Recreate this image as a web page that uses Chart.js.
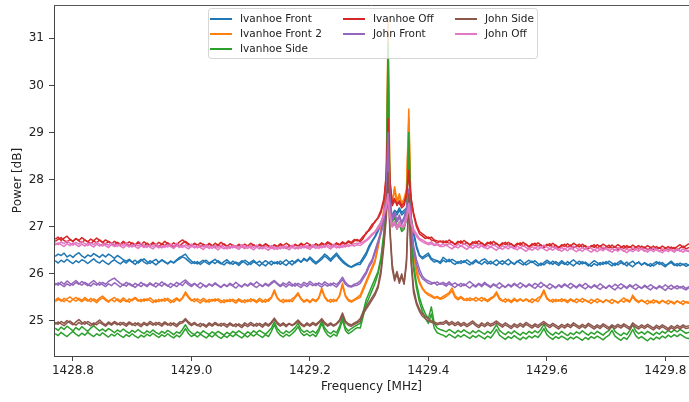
<!DOCTYPE html>
<html>
<head>
<meta charset="utf-8">
<script src="https://cdn.jsdelivr.net/npm/chart.js@4.4.0/dist/chart.umd.min.js"></script>
<style>
  html, body { margin: 0; padding: 0; background: #fff; overflow: hidden; }
  canvas { display: block; }
</style>
</head>
<body>
<canvas id="spectrum" width="689" height="402"></canvas>
<script>
// frequency bins [MHz] - 5 kHz steps on the wings, finer across the line
const freq = [
  1428.770, 1428.775, 1428.780, 1428.785, 1428.790, 1428.795, 1428.800, 1428.805, 1428.810, 1428.815,
  1428.820, 1428.825, 1428.830, 1428.835, 1428.840, 1428.845, 1428.850, 1428.855, 1428.860, 1428.865,
  1428.870, 1428.875, 1428.880, 1428.885, 1428.890, 1428.895, 1428.900, 1428.905, 1428.910, 1428.915,
  1428.920, 1428.925, 1428.930, 1428.935, 1428.940, 1428.945, 1428.950, 1428.955, 1428.960, 1428.965,
  1428.970, 1428.975, 1428.980, 1428.985, 1428.990, 1428.995, 1429.000, 1429.005, 1429.010, 1429.015,
  1429.020, 1429.025, 1429.030, 1429.035, 1429.040, 1429.045, 1429.050, 1429.055, 1429.060, 1429.065,
  1429.070, 1429.075, 1429.080, 1429.085, 1429.090, 1429.095, 1429.100, 1429.105, 1429.110, 1429.115,
  1429.120, 1429.125, 1429.130, 1429.135, 1429.140, 1429.145, 1429.150, 1429.155, 1429.160, 1429.165,
  1429.170, 1429.175, 1429.180, 1429.185, 1429.190, 1429.195, 1429.200, 1429.205, 1429.210, 1429.215,
  1429.220, 1429.225, 1429.230, 1429.235, 1429.240, 1429.245, 1429.250, 1429.255, 1429.260, 1429.265,
  1429.270, 1429.275, 1429.280,
  1429.285, 1429.290, 1429.295, 1429.300, 1429.305, 1429.310, 1429.315, 1429.320, 1429.325, 1429.329,
  1429.332, 1429.335, 1429.339, 1429.343, 1429.347, 1429.351, 1429.355, 1429.359, 1429.363, 1429.367,
  1429.371, 1429.375, 1429.380, 1429.385, 1429.390, 1429.395, 1429.400, 1429.405, 1429.410, 1429.415,
  1429.420,
  1429.425, 1429.430, 1429.435, 1429.440, 1429.445, 1429.450, 1429.455, 1429.460, 1429.465, 1429.470,
  1429.475, 1429.480, 1429.485, 1429.490, 1429.495, 1429.500, 1429.505, 1429.510, 1429.515, 1429.520,
  1429.525, 1429.530, 1429.535, 1429.540, 1429.545, 1429.550, 1429.555, 1429.560, 1429.565, 1429.570,
  1429.575, 1429.580, 1429.585, 1429.590, 1429.595, 1429.600, 1429.605, 1429.610, 1429.615, 1429.620,
  1429.625, 1429.630, 1429.635, 1429.640, 1429.645, 1429.650, 1429.655, 1429.660, 1429.665, 1429.670,
  1429.675, 1429.680, 1429.685, 1429.690, 1429.695, 1429.700, 1429.705, 1429.710, 1429.715, 1429.720,
  1429.725, 1429.730, 1429.735, 1429.740, 1429.745, 1429.750, 1429.755, 1429.760, 1429.765, 1429.770,
  1429.775, 1429.780, 1429.785, 1429.790, 1429.795, 1429.800, 1429.805, 1429.810, 1429.815, 1429.820,
  1429.825, 1429.830, 1429.835, 1429.840
];

// power [dB], two sweeps per pointing
const ivanhoeFrontA = [
  26.37, 26.42, 26.39, 26.44, 26.36, 26.40, 26.35, 26.41, 26.45, 26.38,
  26.34, 26.40, 26.37, 26.43, 26.39, 26.35, 26.41, 26.36, 26.42, 26.38,
  26.33, 26.39, 26.35, 26.30, 26.27, 26.31, 26.25, 26.29, 26.23, 26.28,
  26.32, 26.26, 26.22, 26.27, 26.31, 26.24, 26.29, 26.25, 26.21, 26.27,
  26.24, 26.30, 26.35, 26.38, 26.42, 26.33, 26.27, 26.22, 26.26, 26.20,
  26.25, 26.29, 26.23, 26.27, 26.31, 26.25, 26.21, 26.26, 26.30, 26.24,
  26.20, 26.25, 26.22, 26.28, 26.24, 26.19, 26.25, 26.29, 26.23, 26.27,
  26.21, 26.17, 26.23, 26.27, 26.22, 26.26, 26.20, 26.25, 26.30, 26.24,
  26.19, 26.26, 26.31, 26.25, 26.33, 26.28, 26.36, 26.30, 26.24, 26.29,
  26.35, 26.42, 26.37, 26.31, 26.38, 26.44, 26.36, 26.29, 26.23, 26.18,
  26.15, 26.19, 26.22,
  26.25, 26.35, 26.45, 26.60, 26.70, 26.80, 26.95, 27.10, 27.25, 27.40,
  27.70, 27.35, 27.25, 27.35, 27.30, 27.40, 27.30, 27.35, 27.40, 27.55,
  27.20, 26.90, 26.60, 26.40, 26.35, 26.40, 26.44, 26.33, 26.30, 26.28,
  26.25,
  26.35, 26.30, 26.26, 26.31, 26.27, 26.22, 26.28, 26.24, 26.30, 26.25,
  26.21, 26.27, 26.23, 26.29, 26.32, 26.26, 26.21, 26.25, 26.30, 26.24,
  26.20, 26.26, 26.31, 26.25, 26.21, 26.27, 26.23, 26.19, 26.25, 26.29,
  26.24, 26.28, 26.22, 26.18, 26.24, 26.29, 26.25, 26.20, 26.26, 26.22,
  26.28, 26.23, 26.19, 26.25, 26.30, 26.24, 26.20, 26.26, 26.22, 26.17,
  26.23, 26.28, 26.24, 26.19, 26.25, 26.21, 26.27, 26.23, 26.18, 26.24,
  26.28, 26.22, 26.17, 26.23, 26.27, 26.21, 26.25, 26.19, 26.24, 26.20,
  26.16, 26.22, 26.26, 26.20, 26.24, 26.18, 26.22, 26.27, 26.21, 26.17,
  26.23, 26.19, 26.22, 26.18
];
const ivanhoeFrontB = [
  26.28, 26.23, 26.29, 26.25, 26.31, 26.26, 26.22, 26.28, 26.24, 26.30,
  26.27, 26.22, 26.27, 26.32, 26.26, 26.23, 26.29, 26.24, 26.20, 26.26,
  26.30, 26.25, 26.21, 26.27, 26.23, 26.29, 26.25, 26.20, 26.26, 26.31,
  26.25, 26.21, 26.28, 26.24, 26.19, 26.25, 26.30, 26.26, 26.22, 26.27,
  26.23, 26.28, 26.32, 26.36, 26.33, 26.27, 26.22, 26.26, 26.21, 26.25,
  26.29, 26.24, 26.20, 26.26, 26.22, 26.28, 26.23, 26.19, 26.25, 26.21,
  26.27, 26.23, 26.18, 26.24, 26.29, 26.25, 26.20, 26.26, 26.22, 26.17,
  26.23, 26.28, 26.24, 26.19, 26.25, 26.21, 26.27, 26.22, 26.18, 26.24,
  26.28, 26.23, 26.29, 26.25, 26.31, 26.27, 26.33, 26.26, 26.21, 26.26,
  26.31, 26.38, 26.33, 26.27, 26.34, 26.40, 26.32, 26.25, 26.20, 26.16,
  26.14, 26.17, 26.20,
  26.20, 26.30, 26.40, 26.55, 26.68, 26.78, 26.90, 27.05, 27.20, 27.35,
  27.60, 27.30, 27.20, 27.30, 27.25, 27.35, 27.25, 27.30, 27.35, 27.45,
  27.15, 26.85, 26.55, 26.38, 26.32, 26.36, 26.40, 26.30, 26.25, 26.27,
  26.22,
  26.29, 26.25, 26.31, 26.24, 26.20, 26.26, 26.22, 26.28, 26.23, 26.19,
  26.25, 26.30, 26.24, 26.20, 26.26, 26.21, 26.27, 26.22, 26.18, 26.24,
  26.28, 26.23, 26.19, 26.25, 26.20, 26.26, 26.30, 26.24, 26.19, 26.23,
  26.27, 26.21, 26.17, 26.23, 26.19, 26.25, 26.21, 26.27, 26.22, 26.18,
  26.24, 26.20, 26.26, 26.21, 26.17, 26.23, 26.27, 26.21, 26.25, 26.20,
  26.16, 26.22, 26.18, 26.24, 26.20, 26.26, 26.21, 26.17, 26.23, 26.19,
  26.24, 26.20, 26.25, 26.19, 26.15, 26.21, 26.25, 26.19, 26.23, 26.18,
  26.22, 26.17, 26.21, 26.25, 26.19, 26.15, 26.21, 26.24, 26.18, 26.22,
  26.17, 26.21, 26.16, 26.19
];
const ivanhoeFront2A = [
  25.44, 25.49, 25.45, 25.41, 25.47, 25.51, 25.46, 25.42, 25.48, 25.44,
  25.50, 25.45, 25.41, 25.47, 25.43, 25.49, 25.53, 25.47, 25.42, 25.46,
  25.41, 25.47, 25.43, 25.49, 25.44, 25.40, 25.46, 25.50, 25.45, 25.41,
  25.47, 25.43, 25.49, 25.44, 25.40, 25.46, 25.42, 25.48, 25.44, 25.39,
  25.45, 25.49, 25.44, 25.50, 25.62, 25.52, 25.45, 25.41, 25.47, 25.43,
  25.48, 25.44, 25.40, 25.46, 25.42, 25.47, 25.43, 25.39, 25.45, 25.41,
  25.46, 25.42, 25.47, 25.43, 25.39, 25.45, 25.41, 25.46, 25.42, 25.48,
  25.44, 25.40, 25.46, 25.51, 25.66, 25.50, 25.43, 25.39, 25.45, 25.41,
  25.47, 25.52, 25.60, 25.48, 25.42, 25.46, 25.41, 25.47, 25.43, 25.50,
  25.70, 25.52, 25.44, 25.40, 25.46, 25.42, 25.55, 25.80, 25.55, 25.46,
  25.42, 25.46, 25.50,
  25.55, 25.70, 25.85, 26.00, 26.15, 26.30, 26.60, 26.95, 27.40, 28.20,
  31.40, 28.00, 27.50, 27.85, 27.55, 27.70, 27.50, 27.60, 27.80, 29.50,
  27.20, 26.50, 26.10, 25.85, 25.70, 25.62, 25.58, 25.55, 25.50, 25.52,
  25.48,
  25.52, 25.56, 25.60, 25.70, 25.54, 25.48, 25.52, 25.47, 25.43, 25.49,
  25.45, 25.50, 25.46, 25.42, 25.48, 25.44, 25.49, 25.52, 25.62, 25.49,
  25.44, 25.40, 25.46, 25.42, 25.48, 25.43, 25.47, 25.42, 25.46, 25.41,
  25.47, 25.43, 25.49, 25.53, 25.66, 25.50, 25.44, 25.40, 25.46, 25.42,
  25.47, 25.43, 25.39, 25.45, 25.41, 25.47, 25.43, 25.48, 25.44, 25.40,
  25.46, 25.42, 25.47, 25.43, 25.39, 25.45, 25.41, 25.46, 25.42, 25.38,
  25.44, 25.49, 25.43, 25.40, 25.55, 25.46, 25.41, 25.45, 25.40, 25.44,
  25.39, 25.45, 25.41, 25.37, 25.43, 25.39, 25.44, 25.40, 25.36, 25.42,
  25.38, 25.43, 25.39, 25.37
];
const ivanhoeFront2B = [
  25.41, 25.46, 25.42, 25.48, 25.44, 25.40, 25.46, 25.50, 25.45, 25.41,
  25.46, 25.42, 25.48, 25.43, 25.39, 25.45, 25.49, 25.44, 25.40, 25.46,
  25.50, 25.44, 25.40, 25.45, 25.41, 25.47, 25.43, 25.48, 25.42, 25.46,
  25.42, 25.47, 25.43, 25.39, 25.45, 25.41, 25.46, 25.42, 25.48, 25.44,
  25.40, 25.46, 25.42, 25.48, 25.58, 25.49, 25.43, 25.47, 25.42, 25.38,
  25.44, 25.40, 25.46, 25.42, 25.47, 25.43, 25.39, 25.45, 25.41, 25.46,
  25.42, 25.38, 25.44, 25.40, 25.45, 25.41, 25.47, 25.43, 25.39, 25.44,
  25.40, 25.46, 25.42, 25.49, 25.62, 25.48, 25.42, 25.46, 25.41, 25.45,
  25.41, 25.49, 25.57, 25.46, 25.40, 25.44, 25.39, 25.45, 25.41, 25.48,
  25.66, 25.50, 25.42, 25.46, 25.41, 25.45, 25.52, 25.76, 25.52, 25.43,
  25.40, 25.44, 25.47,
  25.50, 25.65, 25.80, 25.95, 26.10, 26.25, 26.55, 26.90, 27.30, 28.00,
  31.00, 27.90, 27.45, 27.80, 27.50, 27.65, 27.45, 27.55, 27.70, 29.30,
  27.10, 26.40, 26.00, 25.80, 25.68, 25.60, 25.55, 25.52, 25.48, 25.50,
  25.46,
  25.48, 25.52, 25.57, 25.64, 25.50, 25.45, 25.49, 25.44, 25.48, 25.43,
  25.47, 25.42, 25.46, 25.50, 25.45, 25.41, 25.46, 25.50, 25.58, 25.46,
  25.42, 25.47, 25.43, 25.39, 25.45, 25.41, 25.46, 25.42, 25.47, 25.43,
  25.39, 25.45, 25.41, 25.50, 25.62, 25.47, 25.42, 25.46, 25.41, 25.45,
  25.41, 25.46, 25.42, 25.47, 25.43, 25.39, 25.44, 25.40, 25.45, 25.41,
  25.37, 25.43, 25.39, 25.44, 25.40, 25.45, 25.41, 25.37, 25.43, 25.39,
  25.44, 25.40, 25.46, 25.42, 25.51, 25.43, 25.39, 25.44, 25.40, 25.36,
  25.42, 25.38, 25.43, 25.39, 25.44, 25.40, 25.36, 25.42, 25.38, 25.43,
  25.39, 25.35, 25.41, 25.40
];
const ivanhoeSideA = [
  24.85, 24.80, 24.87, 24.82, 24.89, 24.84, 24.79, 24.86, 24.81, 24.88,
  24.83, 24.78, 24.85, 24.90, 24.84, 24.79, 24.83, 24.78, 24.84, 24.80,
  24.75, 24.81, 24.77, 24.83, 24.78, 24.74, 24.80, 24.76, 24.82, 24.77,
  24.73, 24.79, 24.75, 24.81, 24.76, 24.72, 24.78, 24.74, 24.80, 24.76,
  24.71, 24.77, 24.74, 24.82, 24.92, 24.81, 24.75, 24.71, 24.77, 24.73,
  24.79, 24.75, 24.71, 24.77, 24.73, 24.78, 24.74, 24.70, 24.76, 24.72,
  24.78, 24.74, 24.79, 24.75, 24.71, 24.77, 24.73, 24.79, 24.75, 24.80,
  24.76, 24.72, 24.78, 24.85, 24.98, 24.84, 24.77, 24.73, 24.79, 24.75,
  24.80, 24.86, 24.95, 24.82, 24.76, 24.80, 24.75, 24.79, 24.74, 24.84,
  25.00, 24.85, 24.77, 24.73, 24.79, 24.75, 24.88, 25.08, 24.86, 24.79,
  24.84, 24.88, 24.92,
  24.95, 25.20, 25.45, 25.60, 25.75, 25.90, 26.05, 26.35, 26.90, 27.80,
  30.90, 27.60, 27.10, 27.20, 27.00, 27.10, 26.95, 27.00, 27.20, 29.00,
  26.90, 26.20, 25.80, 25.50, 25.30, 25.15, 25.05, 25.30, 24.95, 24.85,
  24.82,
  24.80, 24.77, 24.82, 24.78, 24.74, 24.80, 24.76, 24.81, 24.77, 24.73,
  24.79, 24.75, 24.80, 24.76, 24.72, 24.78, 24.74, 24.82, 24.92, 24.80,
  24.75, 24.71, 24.77, 24.73, 24.79, 24.74, 24.70, 24.76, 24.72, 24.78,
  24.74, 24.79, 24.75, 24.82, 24.93, 24.80, 24.74, 24.70, 24.76, 24.72,
  24.78, 24.73, 24.69, 24.75, 24.71, 24.77, 24.73, 24.79, 24.74, 24.70,
  24.76, 24.72, 24.78, 24.74, 24.70, 24.76, 24.80, 24.90, 24.78, 24.73,
  24.69, 24.75, 24.71, 24.80, 24.92, 24.79, 24.73, 24.77, 24.72, 24.78,
  24.74, 24.70, 24.76, 24.72, 24.78, 24.74, 24.80, 24.76, 24.81, 24.77,
  24.82, 24.78, 24.74, 24.76
];
const ivanhoeSideB = [
  24.73, 24.69, 24.76, 24.71, 24.67, 24.73, 24.78, 24.72, 24.68, 24.74,
  24.70, 24.76, 24.71, 24.67, 24.73, 24.69, 24.75, 24.70, 24.66, 24.72,
  24.68, 24.74, 24.69, 24.65, 24.71, 24.67, 24.73, 24.68, 24.64, 24.70,
  24.66, 24.72, 24.68, 24.74, 24.69, 24.65, 24.71, 24.67, 24.73, 24.68,
  24.64, 24.70, 24.66, 24.74, 24.84, 24.73, 24.67, 24.71, 24.66, 24.72,
  24.68, 24.64, 24.70, 24.66, 24.72, 24.67, 24.63, 24.69, 24.65, 24.71,
  24.67, 24.72, 24.68, 24.64, 24.70, 24.66, 24.72, 24.68, 24.73, 24.69,
  24.65, 24.71, 24.67, 24.78, 24.92, 24.77, 24.70, 24.66, 24.72, 24.68,
  24.73, 24.79, 24.88, 24.75, 24.69, 24.73, 24.68, 24.72, 24.67, 24.78,
  24.95, 24.79, 24.70, 24.66, 24.72, 24.68, 24.82, 25.02, 24.80, 24.73,
  24.77, 24.82, 24.86,
  24.85, 25.10, 25.35, 25.50, 25.65, 25.80, 26.00, 26.30, 26.80, 27.60,
  30.60, 27.50, 27.00, 27.10, 26.95, 27.05, 26.90, 26.95, 27.15, 28.80,
  26.80, 26.10, 25.70, 25.40, 25.20, 25.05, 24.95, 25.15, 24.85, 24.75,
  24.72,
  24.70, 24.66, 24.72, 24.68, 24.64, 24.70, 24.66, 24.71, 24.67, 24.63,
  24.69, 24.65, 24.70, 24.66, 24.62, 24.68, 24.64, 24.72, 24.82, 24.70,
  24.65, 24.61, 24.67, 24.63, 24.69, 24.64, 24.60, 24.66, 24.62, 24.68,
  24.64, 24.69, 24.65, 24.73, 24.84, 24.71, 24.65, 24.61, 24.67, 24.63,
  24.68, 24.64, 24.60, 24.66, 24.62, 24.67, 24.63, 24.59, 24.65, 24.61,
  24.67, 24.63, 24.68, 24.64, 24.60, 24.66, 24.70, 24.80, 24.68, 24.63,
  24.59, 24.65, 24.61, 24.70, 24.82, 24.69, 24.63, 24.67, 24.62, 24.58,
  24.64, 24.60, 24.66, 24.62, 24.68, 24.64, 24.70, 24.66, 24.71, 24.67,
  24.72, 24.68, 24.64, 24.63
];
const ivanhoeOffA = [
  26.74, 26.78, 26.71, 26.76, 26.80, 26.73, 26.69, 26.75, 26.71, 26.77,
  26.72, 26.68, 26.74, 26.70, 26.76, 26.71, 26.67, 26.72, 26.68, 26.64,
  26.69, 26.65, 26.61, 26.67, 26.63, 26.68, 26.64, 26.60, 26.66, 26.62,
  26.68, 26.63, 26.59, 26.65, 26.61, 26.67, 26.63, 26.69, 26.64, 26.60,
  26.66, 26.62, 26.68, 26.72, 26.67, 26.62, 26.58, 26.64, 26.60, 26.66,
  26.62, 26.58, 26.63, 26.59, 26.65, 26.61, 26.67, 26.62, 26.58, 26.64,
  26.60, 26.56, 26.62, 26.58, 26.63, 26.59, 26.65, 26.61, 26.57, 26.63,
  26.59, 26.64, 26.60, 26.56, 26.62, 26.58, 26.64, 26.60, 26.65, 26.61,
  26.57, 26.63, 26.59, 26.65, 26.61, 26.66, 26.62, 26.58, 26.64, 26.60,
  26.66, 26.62, 26.68, 26.64, 26.60, 26.66, 26.62, 26.68, 26.64, 26.70,
  26.67, 26.73, 26.70,
  26.72, 26.80, 26.85, 26.95, 27.05, 27.10, 27.20, 27.35, 27.60, 28.10,
  29.30, 28.00, 27.50, 27.60, 27.45, 27.55, 27.45, 27.50, 27.70, 28.20,
  27.60, 27.30, 27.05, 26.90, 26.85, 26.80, 26.75, 26.78, 26.72, 26.70,
  26.68,
  26.70, 26.66, 26.72, 26.67, 26.63, 26.69, 26.65, 26.71, 26.66, 26.62,
  26.68, 26.64, 26.70, 26.65, 26.61, 26.67, 26.63, 26.69, 26.64, 26.60,
  26.66, 26.62, 26.67, 26.63, 26.59, 26.65, 26.61, 26.67, 26.62, 26.58,
  26.64, 26.60, 26.66, 26.61, 26.57, 26.63, 26.59, 26.65, 26.60, 26.56,
  26.62, 26.58, 26.64, 26.59, 26.65, 26.61, 26.57, 26.63, 26.58, 26.54,
  26.60, 26.56, 26.62, 26.58, 26.63, 26.59, 26.55, 26.61, 26.57, 26.62,
  26.58, 26.54, 26.60, 26.56, 26.61, 26.57, 26.53, 26.59, 26.55, 26.60,
  26.56, 26.52, 26.58, 26.54, 26.59, 26.55, 26.51, 26.57, 26.53, 26.58,
  26.62, 26.56, 26.60, 26.64
];
const ivanhoeOffB = [
  26.69, 26.73, 26.77, 26.71, 26.67, 26.73, 26.69, 26.75, 26.70, 26.66,
  26.72, 26.68, 26.64, 26.70, 26.66, 26.72, 26.67, 26.63, 26.69, 26.65,
  26.61, 26.67, 26.63, 26.69, 26.64, 26.60, 26.66, 26.62, 26.68, 26.63,
  26.59, 26.65, 26.61, 26.67, 26.62, 26.58, 26.64, 26.60, 26.66, 26.61,
  26.57, 26.63, 26.59, 26.65, 26.69, 26.64, 26.60, 26.65, 26.61, 26.57,
  26.63, 26.59, 26.65, 26.60, 26.56, 26.62, 26.58, 26.64, 26.59, 26.55,
  26.61, 26.57, 26.63, 26.58, 26.54, 26.60, 26.56, 26.62, 26.57, 26.61,
  26.57, 26.63, 26.59, 26.55, 26.61, 26.57, 26.62, 26.58, 26.54, 26.60,
  26.56, 26.62, 26.58, 26.63, 26.59, 26.55, 26.61, 26.57, 26.63, 26.59,
  26.64, 26.60, 26.66, 26.62, 26.58, 26.64, 26.60, 26.66, 26.62, 26.68,
  26.64, 26.70, 26.73,
  26.68, 26.75, 26.88, 26.92, 27.00, 27.12, 27.18, 27.30, 27.55, 28.00,
  29.10, 27.90, 27.45, 27.55, 27.50, 27.50, 27.40, 27.45, 27.65, 28.10,
  27.55, 27.25, 27.00, 26.85, 26.80, 26.75, 26.78, 26.72, 26.70, 26.66,
  26.70,
  26.66, 26.70, 26.64, 26.68, 26.62, 26.66, 26.70, 26.63, 26.67, 26.61,
  26.65, 26.69, 26.62, 26.66, 26.60, 26.64, 26.68, 26.61, 26.65, 26.59,
  26.63, 26.67, 26.60, 26.64, 26.58, 26.62, 26.66, 26.59, 26.63, 26.57,
  26.61, 26.65, 26.58, 26.62, 26.56, 26.60, 26.64, 26.57, 26.61, 26.55,
  26.59, 26.63, 26.57, 26.61, 26.55, 26.59, 26.63, 26.56, 26.60, 26.54,
  26.58, 26.62, 26.55, 26.59, 26.53, 26.57, 26.61, 26.54, 26.58, 26.52,
  26.56, 26.60, 26.54, 26.58, 26.52, 26.56, 26.60, 26.53, 26.57, 26.51,
  26.55, 26.59, 26.52, 26.56, 26.50, 26.54, 26.58, 26.52, 26.56, 26.50,
  26.55, 26.59, 26.53, 26.56
];
const johnFrontA = [
  25.80, 25.76, 25.83, 25.78, 25.85, 25.80, 25.76, 25.82, 25.78, 25.84,
  25.79, 25.75, 25.81, 25.86, 25.80, 25.76, 25.82, 25.78, 25.84, 25.88,
  25.91, 25.85, 25.80, 25.76, 25.82, 25.78, 25.74, 25.80, 25.76, 25.82,
  25.77, 25.73, 25.79, 25.75, 25.81, 25.77, 25.83, 25.78, 25.74, 25.80,
  25.76, 25.82, 25.78, 25.83, 25.87, 25.81, 25.76, 25.80, 25.75, 25.81,
  25.77, 25.73, 25.79, 25.75, 25.81, 25.76, 25.72, 25.78, 25.74, 25.80,
  25.76, 25.82, 25.77, 25.73, 25.79, 25.75, 25.81, 25.77, 25.83, 25.78,
  25.74, 25.80, 25.76, 25.82, 25.86, 25.80, 25.75, 25.81, 25.77, 25.83,
  25.78, 25.74, 25.80, 25.76, 25.82, 25.78, 25.84, 25.79, 25.75, 25.81,
  25.77, 25.83, 25.79, 25.75, 25.81, 25.77, 25.84, 25.93, 25.82, 25.76,
  25.74, 25.78, 25.80,
  25.85, 25.95, 26.05, 26.20, 26.30, 26.50, 26.70, 26.90, 27.20, 27.70,
  29.00, 27.60, 27.20, 27.30, 27.15, 27.25, 27.10, 27.20, 27.40, 27.80,
  27.00, 26.60, 26.30, 26.10, 25.95, 25.88, 25.85, 25.82, 25.80, 25.83,
  25.78,
  25.82, 25.78, 25.83, 25.77, 25.81, 25.76, 25.80, 25.75, 25.79, 25.84,
  25.78, 25.74, 25.80, 25.76, 25.82, 25.77, 25.73, 25.79, 25.75, 25.81,
  25.76, 25.72, 25.78, 25.74, 25.80, 25.75, 25.81, 25.77, 25.73, 25.79,
  25.74, 25.80, 25.76, 25.82, 25.77, 25.73, 25.79, 25.75, 25.71, 25.77,
  25.73, 25.79, 25.74, 25.80, 25.76, 25.72, 25.78, 25.74, 25.80, 25.75,
  25.71, 25.77, 25.73, 25.79, 25.74, 25.70, 25.76, 25.72, 25.78, 25.74,
  25.79, 25.75, 25.71, 25.77, 25.73, 25.78, 25.74, 25.70, 25.76, 25.72,
  25.77, 25.73, 25.69, 25.75, 25.71, 25.77, 25.72, 25.76, 25.71, 25.75,
  25.70, 25.74, 25.69, 25.73
];
const johnFrontB = [
  25.76, 25.81, 25.77, 25.73, 25.79, 25.75, 25.81, 25.86, 25.80, 25.76,
  25.82, 25.78, 25.74, 25.80, 25.76, 25.82, 25.77, 25.73, 25.79, 25.75,
  25.81, 25.77, 25.72, 25.78, 25.74, 25.80, 25.76, 25.71, 25.77, 25.73,
  25.79, 25.75, 25.81, 25.76, 25.72, 25.78, 25.74, 25.80, 25.75, 25.71,
  25.77, 25.73, 25.79, 25.75, 25.83, 25.77, 25.73, 25.79, 25.74, 25.70,
  25.76, 25.72, 25.78, 25.74, 25.79, 25.75, 25.71, 25.77, 25.73, 25.78,
  25.74, 25.70, 25.76, 25.72, 25.78, 25.74, 25.79, 25.75, 25.71, 25.77,
  25.73, 25.78, 25.74, 25.79, 25.84, 25.78, 25.73, 25.77, 25.72, 25.78,
  25.74, 25.80, 25.75, 25.71, 25.77, 25.73, 25.79, 25.75, 25.80, 25.76,
  25.72, 25.78, 25.74, 25.80, 25.76, 25.72, 25.80, 25.88, 25.78, 25.73,
  25.72, 25.75, 25.76,
  25.80, 25.90, 26.00, 26.15, 26.25, 26.45, 26.65, 26.85, 27.10, 27.60,
  28.80, 27.50, 27.15, 27.25, 27.10, 27.20, 27.05, 27.15, 27.35, 27.70,
  26.95, 26.50, 26.20, 26.00, 25.90, 25.85, 25.80, 25.78, 25.82, 25.76,
  25.80,
  25.78, 25.74, 25.79, 25.75, 25.71, 25.77, 25.73, 25.79, 25.74, 25.70,
  25.76, 25.72, 25.78, 25.73, 25.79, 25.75, 25.71, 25.77, 25.73, 25.69,
  25.75, 25.71, 25.77, 25.72, 25.78, 25.74, 25.70, 25.76, 25.72, 25.77,
  25.73, 25.69, 25.75, 25.71, 25.77, 25.72, 25.68, 25.74, 25.70, 25.76,
  25.71, 25.77, 25.73, 25.69, 25.75, 25.70, 25.76, 25.72, 25.68, 25.74,
  25.70, 25.75, 25.71, 25.67, 25.73, 25.69, 25.75, 25.70, 25.66, 25.72,
  25.68, 25.74, 25.69, 25.75, 25.71, 25.67, 25.73, 25.69, 25.74, 25.70,
  25.66, 25.72, 25.68, 25.73, 25.69, 25.65, 25.71, 25.67, 25.72, 25.68,
  25.73, 25.69, 25.66, 25.71
];
const johnSideA = [
  24.97, 24.93, 24.99, 24.95, 25.01, 24.96, 24.92, 24.98, 25.03, 24.97,
  24.93, 24.99, 24.95, 24.91, 24.97, 25.02, 24.96, 24.92, 24.98, 24.94,
  24.99, 24.95, 24.91, 24.97, 24.93, 24.98, 24.94, 24.90, 24.96, 24.92,
  24.97, 24.93, 24.99, 24.95, 24.91, 24.97, 24.93, 24.98, 24.94, 24.90,
  24.96, 24.92, 24.98, 24.99, 25.05, 24.98, 24.93, 24.97, 24.92, 24.88,
  24.94, 24.90, 24.96, 24.92, 24.97, 24.93, 24.89, 24.95, 24.91, 24.96,
  24.92, 24.88, 24.94, 24.90, 24.96, 24.92, 24.97, 24.93, 24.89, 24.95,
  24.91, 24.96, 24.92, 24.98, 25.06, 24.97, 24.92, 24.96, 24.91, 24.95,
  24.91, 24.96, 25.02, 24.95, 24.90, 24.96, 24.92, 24.97, 24.93, 24.98,
  25.05, 24.97, 24.92, 24.96, 24.91, 24.95, 25.02, 25.17, 25.00, 24.94,
  24.92, 24.96, 24.99,
  25.05, 25.20, 25.30, 25.40, 25.50, 25.60, 25.75, 26.10, 26.70, 27.30,
  28.15, 27.00, 26.20, 25.90, 26.05, 25.85, 26.00, 25.80, 26.30, 27.70,
  26.30, 25.70, 25.40, 25.25, 25.15, 25.10, 25.05, 25.00, 24.98, 24.95,
  24.97,
  24.97, 25.01, 24.95, 24.99, 24.94, 24.98, 24.93, 24.97, 24.92, 24.96,
  25.00, 24.94, 24.90, 24.96, 24.92, 24.97, 24.93, 24.96, 25.00, 24.95,
  24.91, 24.96, 24.92, 24.88, 24.94, 24.90, 24.95, 24.91, 24.97, 24.93,
  24.89, 24.94, 24.90, 24.95, 24.99, 24.94, 24.90, 24.95, 24.91, 24.87,
  24.93, 24.89, 24.94, 24.90, 24.96, 24.92, 24.88, 24.93, 24.89, 24.95,
  24.91, 24.87, 24.92, 24.88, 24.94, 24.90, 24.86, 24.92, 24.88, 24.93,
  24.89, 24.94, 24.90, 24.86, 24.96, 24.91, 24.87, 24.92, 24.88, 24.93,
  24.89, 24.85, 24.91, 24.87, 24.92, 24.88, 24.84, 24.90, 24.86, 24.91,
  24.87, 24.92, 24.88, 24.90
];
const johnSideB = [
  24.93, 24.98, 24.94, 24.90, 24.96, 25.00, 24.95, 24.91, 24.97, 24.93,
  24.99, 24.94, 24.90, 24.96, 24.92, 24.97, 24.93, 24.89, 24.95, 24.91,
  24.96, 24.92, 24.97, 24.93, 24.89, 24.95, 24.91, 24.96, 24.92, 24.88,
  24.94, 24.90, 24.95, 24.91, 24.97, 24.93, 24.89, 24.95, 24.91, 24.96,
  24.92, 24.88, 24.94, 24.96, 25.02, 24.95, 24.90, 24.94, 24.90, 24.95,
  24.91, 24.87, 24.93, 24.89, 24.94, 24.90, 24.95, 24.91, 24.87, 24.93,
  24.89, 24.94, 24.90, 24.86, 24.92, 24.88, 24.93, 24.89, 24.95, 24.91,
  24.87, 24.93, 24.89, 24.95, 25.03, 24.94, 24.89, 24.93, 24.88, 24.94,
  24.90, 24.94, 24.99, 24.92, 24.88, 24.93, 24.89, 24.94, 24.90, 24.96,
  25.02, 24.94, 24.89, 24.93, 24.89, 24.93, 24.99, 25.12, 24.97, 24.91,
  24.89, 24.93, 24.96,
  25.00, 25.15, 25.25, 25.35, 25.45, 25.55, 25.70, 26.00, 26.60, 27.20,
  28.00, 26.90, 26.10, 25.85, 26.00, 25.80, 25.95, 25.78, 26.20, 27.60,
  26.20, 25.60, 25.35, 25.20, 25.10, 25.05, 25.00, 24.97, 24.95, 24.92,
  24.94,
  24.93, 24.97, 24.91, 24.95, 24.90, 24.94, 24.89, 24.93, 24.88, 24.92,
  24.96, 24.90, 24.86, 24.92, 24.88, 24.93, 24.89, 24.92, 24.96, 24.91,
  24.87, 24.92, 24.88, 24.84, 24.90, 24.86, 24.91, 24.87, 24.93, 24.89,
  24.85, 24.90, 24.86, 24.91, 24.95, 24.90, 24.86, 24.91, 24.87, 24.83,
  24.89, 24.85, 24.90, 24.86, 24.92, 24.88, 24.84, 24.89, 24.85, 24.91,
  24.87, 24.83, 24.88, 24.84, 24.90, 24.86, 24.82, 24.88, 24.84, 24.89,
  24.85, 24.90, 24.86, 24.82, 24.92, 24.87, 24.83, 24.88, 24.84, 24.89,
  24.85, 24.81, 24.87, 24.83, 24.88, 24.84, 24.80, 24.86, 24.82, 24.87,
  24.83, 24.88, 24.84, 24.86
];
const johnOffA = [
  26.66, 26.62, 26.68, 26.64, 26.70, 26.65, 26.61, 26.67, 26.63, 26.69,
  26.64, 26.60, 26.66, 26.62, 26.67, 26.63, 26.59, 26.65, 26.61, 26.66,
  26.62, 26.58, 26.64, 26.60, 26.66, 26.61, 26.57, 26.63, 26.59, 26.65,
  26.60, 26.56, 26.62, 26.58, 26.64, 26.59, 26.55, 26.61, 26.57, 26.63,
  26.59, 26.65, 26.60, 26.56, 26.62, 26.58, 26.63, 26.59, 26.55, 26.61,
  26.57, 26.62, 26.58, 26.54, 26.60, 26.56, 26.61, 26.57, 26.53, 26.59,
  26.55, 26.60, 26.56, 26.62, 26.58, 26.54, 26.60, 26.56, 26.61, 26.57,
  26.53, 26.59, 26.55, 26.60, 26.56, 26.52, 26.58, 26.54, 26.59, 26.55,
  26.61, 26.57, 26.53, 26.59, 26.55, 26.60, 26.56, 26.62, 26.58, 26.54,
  26.60, 26.56, 26.61, 26.57, 26.63, 26.59, 26.55, 26.61, 26.57, 26.62,
  26.60, 26.64, 26.65,
  26.65, 26.68, 26.72, 26.78, 26.85, 26.90, 27.00, 27.10, 27.30, 27.50,
  27.70, 27.30, 27.05, 27.10, 27.00, 27.10, 27.00, 27.05, 27.20, 27.50,
  27.10, 26.95, 26.85, 26.75, 26.72, 26.68, 26.65, 26.68, 26.62, 26.65,
  26.60,
  26.64, 26.60, 26.65, 26.61, 26.57, 26.63, 26.59, 26.64, 26.60, 26.56,
  26.62, 26.58, 26.63, 26.59, 26.55, 26.61, 26.57, 26.62, 26.58, 26.54,
  26.60, 26.56, 26.61, 26.57, 26.53, 26.59, 26.55, 26.60, 26.56, 26.52,
  26.58, 26.54, 26.59, 26.55, 26.61, 26.57, 26.53, 26.58, 26.54, 26.50,
  26.56, 26.52, 26.57, 26.53, 26.59, 26.55, 26.51, 26.56, 26.52, 26.58,
  26.54, 26.50, 26.55, 26.51, 26.57, 26.53, 26.49, 26.54, 26.50, 26.56,
  26.52, 26.48, 26.53, 26.49, 26.55, 26.51, 26.56, 26.52, 26.48, 26.54,
  26.50, 26.55, 26.51, 26.47, 26.53, 26.49, 26.54, 26.50, 26.46, 26.52,
  26.48, 26.53, 26.49, 26.47
];
const johnOffB = [
  26.61, 26.66, 26.62, 26.58, 26.64, 26.60, 26.66, 26.62, 26.58, 26.63,
  26.59, 26.65, 26.61, 26.57, 26.63, 26.59, 26.64, 26.60, 26.56, 26.62,
  26.58, 26.63, 26.59, 26.55, 26.61, 26.57, 26.62, 26.58, 26.54, 26.60,
  26.56, 26.61, 26.57, 26.53, 26.59, 26.55, 26.60, 26.56, 26.62, 26.58,
  26.54, 26.60, 26.56, 26.61, 26.57, 26.53, 26.59, 26.55, 26.60, 26.56,
  26.52, 26.58, 26.54, 26.59, 26.55, 26.51, 26.57, 26.53, 26.58, 26.54,
  26.60, 26.56, 26.52, 26.58, 26.54, 26.59, 26.55, 26.51, 26.57, 26.53,
  26.58, 26.54, 26.50, 26.56, 26.52, 26.57, 26.53, 26.59, 26.55, 26.51,
  26.57, 26.53, 26.58, 26.54, 26.60, 26.56, 26.52, 26.58, 26.54, 26.59,
  26.55, 26.61, 26.57, 26.53, 26.59, 26.55, 26.60, 26.56, 26.62, 26.58,
  26.61, 26.59, 26.62,
  26.60, 26.65, 26.70, 26.75, 26.82, 26.88, 26.95, 27.05, 27.25, 27.40,
  27.60, 27.20, 27.00, 27.05, 26.95, 27.05, 26.98, 27.00, 27.15, 27.40,
  27.05, 26.90, 26.80, 26.72, 26.68, 26.65, 26.62, 26.64, 26.60, 26.62,
  26.58,
  26.58, 26.62, 26.57, 26.53, 26.59, 26.55, 26.60, 26.56, 26.52, 26.58,
  26.54, 26.59, 26.55, 26.61, 26.57, 26.53, 26.58, 26.54, 26.50, 26.56,
  26.52, 26.57, 26.53, 26.59, 26.55, 26.51, 26.56, 26.52, 26.48, 26.54,
  26.50, 26.55, 26.51, 26.57, 26.53, 26.49, 26.54, 26.50, 26.56, 26.52,
  26.48, 26.53, 26.49, 26.55, 26.51, 26.47, 26.52, 26.48, 26.54, 26.50,
  26.46, 26.51, 26.47, 26.53, 26.49, 26.55, 26.50, 26.46, 26.52, 26.48,
  26.54, 26.49, 26.45, 26.51, 26.47, 26.52, 26.48, 26.54, 26.50, 26.46,
  26.52, 26.47, 26.53, 26.49, 26.45, 26.51, 26.47, 26.52, 26.48, 26.54,
  26.50, 26.46, 26.51, 26.49
];

const xTicks = [1428.8, 1429.0, 1429.2, 1429.4, 1429.6, 1429.8];
const yTicks = [25, 26, 27, 28, 29, 30, 31];

const series = [
  { label: 'Ivanhoe Front',   color: '#1f77b4', sweeps: [ivanhoeFrontA, ivanhoeFrontB] },
  { label: 'Ivanhoe Front 2', color: '#ff7f0e', sweeps: [ivanhoeFront2A, ivanhoeFront2B] },
  { label: 'Ivanhoe Side',    color: '#2ca02c', sweeps: [ivanhoeSideA, ivanhoeSideB] },
  { label: 'Ivanhoe Off',     color: '#d62728', sweeps: [ivanhoeOffA, ivanhoeOffB] },
  { label: 'John Front',      color: '#9467bd', sweeps: [johnFrontA, johnFrontB] },
  { label: 'John Side',       color: '#8c564b', sweeps: [johnSideA, johnSideB] },
  { label: 'John Off',        color: '#e377c2', sweeps: [johnOffA, johnOffB] }
];

const FONT = '"DejaVu Sans", "Liberation Sans", sans-serif';

const datasets = [];
series.forEach(s => {
  s.sweeps.forEach(p => {
    datasets.push({
      label: s.label,
      data: freq.map((f, i) => ({ x: f, y: p[i] })),
      borderColor: s.color,
      borderWidth: 1.5,
      borderJoinStyle: 'round',
      pointRadius: 0,
      tension: 0,
      // later sweeps sit on top, like the plotting order
      order: -datasets.length
    });
  });
});

// legend: 3 columns filled top-down (3, 2, 2 entries), at the top of the axes
const legendPlugin = {
  id: 'columnLegend',
  afterDatasetsDraw(chart) {
    const ctx = chart.ctx;
    const area = chart.chartArea;
    ctx.save();
    // top spine
    ctx.strokeStyle = '#555';
    ctx.lineWidth = 1;
    ctx.beginPath();
    ctx.moveTo(area.left, Math.round(area.top) + 0.5);
    ctx.lineTo(area.right, Math.round(area.top) + 0.5);
    ctx.stroke();

    const box = { x: 208.5, y: 8.5, w: 329, h: 50 };
    const colX = [210, 343, 455];
    const rowY = [19, 34, 49];
    const slots = [[0, 0], [0, 1], [0, 2], [1, 0], [1, 1], [2, 0], [2, 1]];
    ctx.beginPath();
    ctx.roundRect(box.x, box.y, box.w, box.h, 3);
    ctx.fillStyle = 'rgba(255,255,255,0.8)';
    ctx.fill();
    ctx.strokeStyle = 'rgba(204,204,204,0.8)';
    ctx.stroke();

    ctx.font = '10.5px ' + FONT;
    ctx.textBaseline = 'middle';
    ctx.textAlign = 'left';
    series.forEach((s, k) => {
      const x = colX[slots[k][0]];
      const y = rowY[slots[k][1]];
      ctx.strokeStyle = s.color;
      ctx.lineWidth = 2;
      ctx.beginPath();
      ctx.moveTo(x, y);
      ctx.lineTo(x + 22, y);
      ctx.stroke();
      ctx.fillStyle = '#222';
      ctx.fillText(s.label, x + 30, y + 0.5);
    });
    ctx.restore();
  }
};

new Chart(document.getElementById('spectrum'), {
  type: 'line',
  data: { datasets: datasets },
  options: {
    responsive: false,
    animation: false,
    layout: { padding: { top: 5, right: 0, left: 0, bottom: 0 } },
    plugins: { legend: { display: false }, tooltip: { enabled: false } },
    scales: {
      x: {
        type: 'linear',
        min: 1428.768,
        max: 1429.84,
        afterBuildTicks: s => { s.ticks = xTicks.map(v => ({ value: v })); },
        afterFit: s => { s.height = 46; s.paddingLeft = 0; s.paddingRight = 0; },
        ticks: {
          font: { family: FONT, size: 12 },
          color: '#222',
          padding: 3,
          maxRotation: 0,
          callback: v => v.toFixed(1)
        },
        grid: { drawOnChartArea: false, tickLength: 5, color: '#444' },
        border: { color: '#444', width: 1 },
        title: {
          display: true,
          text: 'Frequency [MHz]',
          font: { family: FONT, size: 12 },
          color: '#222',
          padding: { top: 0, bottom: 8 }
        }
      },
      y: {
        type: 'linear',
        min: 24.257,
        max: 31.707,
        afterBuildTicks: s => { s.ticks = yTicks.map(v => ({ value: v })); },
        afterFit: s => { s.width = 54; s.paddingTop = 0; s.paddingBottom = 0; },
        ticks: {
          font: { family: FONT, size: 12 },
          color: '#222',
          padding: 5,
          callback: v => String(v)
        },
        grid: { drawOnChartArea: false, tickLength: 5, color: '#444' },
        border: { color: '#444', width: 1 },
        title: {
          display: true,
          text: 'Power [dB]',
          font: { family: FONT, size: 12 },
          color: '#222',
          padding: { top: 11, bottom: 0 }
        }
      }
    }
  },
  plugins: [legendPlugin]
});
</script>
</body>
</html>
